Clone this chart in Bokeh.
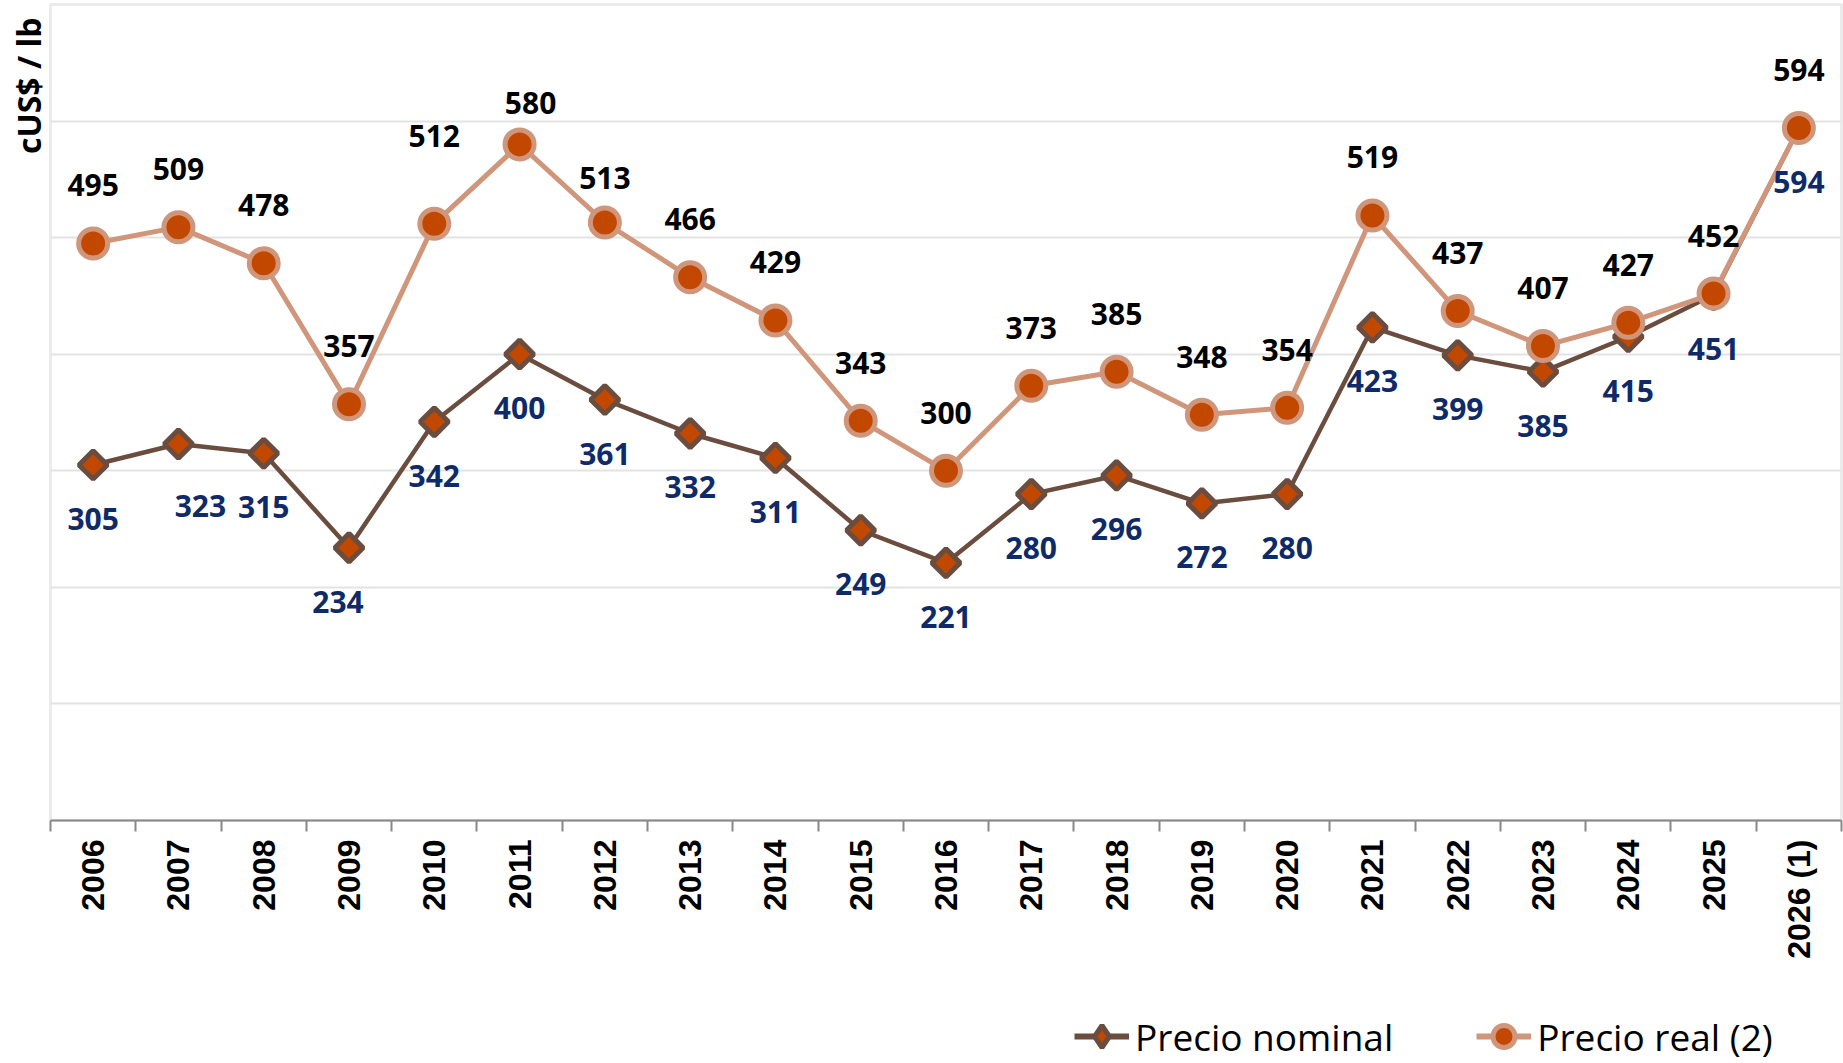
import math
from bokeh.plotting import figure
from bokeh.layouts import column
from bokeh.models import (Range1d, FixedTicker, ColumnDataSource, Legend,
                          LegendItem, Title)
from bokeh.core.properties import value
from bokeh.embed import file_html
from bokeh.resources import INLINE

# ---------------- data ----------------
years = ["2006", "2007", "2008", "2009", "2010", "2011", "2012", "2013",
         "2014", "2015", "2016", "2017", "2018", "2019", "2020", "2021",
         "2022", "2023", "2024", "2025", "2026 (1)"]
nominal = [305, 323, 315, 234, 342, 400, 361, 332, 311, 249, 221, 280,
           296, 272, 280, 423, 399, 385, 415, 451, 594]
real = [495, 509, 478, 357, 512, 580, 513, 466, 429, 343, 300, 373,
        385, 348, 354, 519, 437, 407, 427, 452, 594]
y_ticks = [0, 100, 200, 300, 400, 500, 600]

# ---------------- styling ----------------
ORANGE = "#C24800"
TAN = "#D0967B"
BROWN = "#6B4D40"
NAVY = "#0F2A68"
LABEL_FONT = "Open Sans"

# default label offsets (screen px) and a few manual nudges
REAL_DY = -58
NOM_DY = 54
real_nudge = {"2010": (0, -88), "2011": (11, -41), "2012": (0, -44)}
nom_nudge = {"2007": (22, 62), "2009": (-11, NOM_DY)}

xs = [i + 0.5 for i in range(len(years))]
real_dx = [real_nudge.get(y, (0, REAL_DY))[0] for y in years]
real_dy = [real_nudge.get(y, (0, REAL_DY))[1] for y in years]
nom_dx = [nom_nudge.get(y, (0, NOM_DY))[0] for y in years]
nom_dy = [nom_nudge.get(y, (0, NOM_DY))[1] for y in years]

src = ColumnDataSource(dict(
    x=xs, nominal=nominal, real=real,
    nominal_txt=[str(v) for v in nominal], real_txt=[str(v) for v in real],
    real_dx=real_dx, real_dy=real_dy, nom_dx=nom_dx, nom_dy=nom_dy,
    angle=[math.pi / 4] * len(years),
))

p = figure(width=1843, height=990, output_backend="svg", toolbar_location=None,
           x_range=Range1d(0, len(years)), y_range=Range1d(0, 700),
           min_border_left=50, min_border_right=2, min_border_top=4,
           min_border_bottom=170)

p.background_fill_color = "white"
p.border_fill_color = "white"
p.outline_line_color = "#EBEBEB"
p.outline_line_width = 3

# y axis hidden, grid only
p.yaxis.visible = False
p.ygrid.ticker = FixedTicker(ticks=y_ticks)
p.ygrid.grid_line_color = "#E3E3E3"
p.ygrid.grid_line_width = 2
p.xgrid.visible = False

# x axis: labels at category centres, ticks at boundaries
xa = p.xaxis[0]
xa.ticker = FixedTicker(ticks=xs, minor_ticks=list(range(len(years) + 1)))
xa.major_label_overrides = {x: y for x, y in zip(xs, years)}
xa.major_tick_out = 0
xa.major_tick_in = 0
xa.minor_tick_out = 11
xa.minor_tick_in = 0
xa.minor_tick_line_color = "#888888"
xa.minor_tick_line_width = 2
xa.axis_line_color = "#888888"
xa.axis_line_width = 2
xa.major_label_orientation = math.pi / 2
xa.major_label_standoff = 8
xa.major_label_text_font = "Liberation Sans"
xa.major_label_text_font_style = "bold"
xa.major_label_text_font_size = "32px"
xa.major_label_text_color = "black"

# y-axis title at the top-left
p.add_layout(Title(text="cUS$ / lb", align="right", text_font=LABEL_FONT,
                   text_font_size="32px", text_font_style="bold",
                   text_color="black", standoff=2, offset=13), "left")

# nominal series
p.line("x", "nominal", source=src, line_color=BROWN, line_width=4.5)
p.scatter("x", "nominal", source=src, marker="square", angle="angle",
          size=20, fill_color=ORANGE, line_color=BROWN, line_width=5)
# real series
p.line("x", "real", source=src, line_color=TAN, line_width=5)
p.scatter("x", "real", source=src, marker="circle", size=29,
          fill_color=ORANGE, line_color=TAN, line_width=5)

# data labels
p.text("x", "real", text="real_txt", source=src, x_offset="real_dx",
       y_offset="real_dy", text_align="center", text_baseline="middle",
       text_font=value(LABEL_FONT), text_font_style="bold",
       text_font_size="30px", text_color="black")
p.text("x", "nominal", text="nominal_txt", source=src, x_offset="nom_dx",
       y_offset="nom_dy", text_align="center", text_baseline="middle",
       text_font=value(LABEL_FONT), text_font_style="bold",
       text_font_size="30px", text_color=NAVY)

# legend strip below the chart (same series, drawn out of view, legend only)
q = figure(width=1843, height=73, output_backend="svg", toolbar_location=None,
           x_range=Range1d(-100, -90), y_range=Range1d(-100, -90),
           min_border=0)
q.axis.visible = False
q.grid.visible = False
q.outline_line_color = None
q.background_fill_color = "white"
q.border_fill_color = "white"
qnl = q.line("x", "nominal", source=src, line_color=BROWN, line_width=6)
qns = q.scatter("x", "nominal", source=src, marker="diamond", size=20,
                fill_color=ORANGE, line_color=BROWN, line_width=5)
qrl = q.line("x", "real", source=src, line_color=TAN, line_width=6)
qrs = q.scatter("x", "real", source=src, marker="circle", size=29,
                fill_color=ORANGE, line_color=TAN, line_width=5)

legend = Legend(items=[LegendItem(label="Precio nominal", renderers=[qnl, qns]),
                       LegendItem(label="Precio real (2)", renderers=[qrl, qrs])],
                location=(1024, -3), orientation="horizontal",
                border_line_color=None, background_fill_alpha=0,
                label_text_font=LABEL_FONT, label_text_font_size="37px",
                label_text_color="black",
                glyph_width=55, glyph_height=60, label_standoff=6,
                spacing=83, padding=0, margin=0)
q.add_layout(legend, "center")

layout = column(p, q, spacing=0)
open("out.html", "w").write(file_html(layout, INLINE))
